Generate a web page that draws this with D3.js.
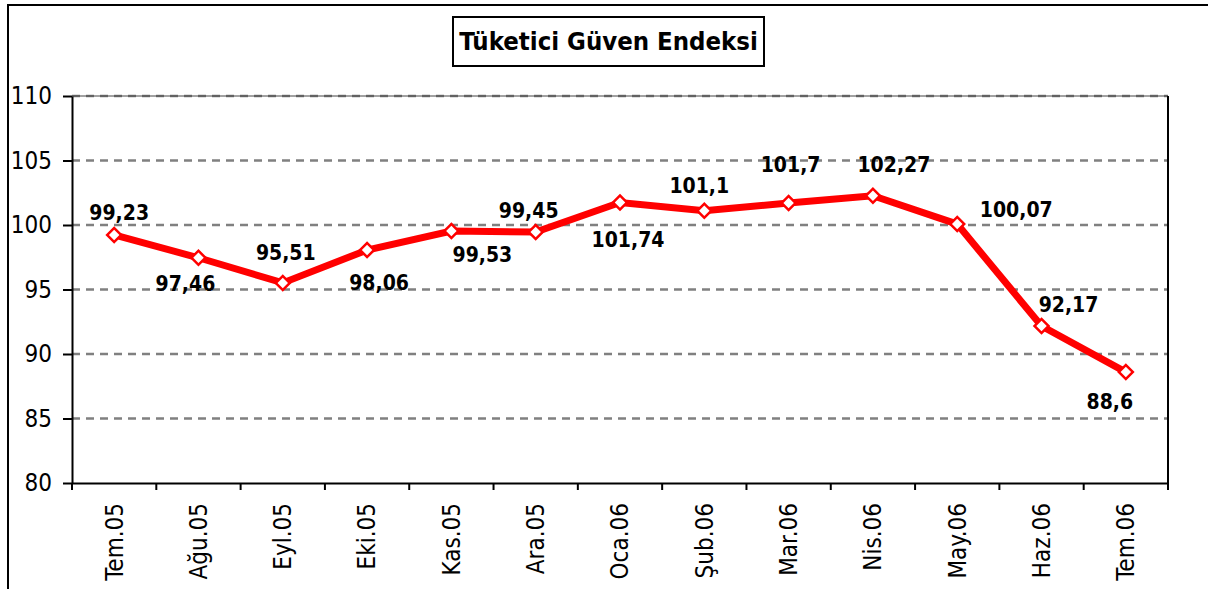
<!DOCTYPE html>
<html>
<head>
<meta charset="utf-8">
<script src="https://cdn.jsdelivr.net/npm/d3@7"></script>
<style>
  body { margin: 0; background: #fff; }
  text { font-family: "DejaVu Sans Condensed", "DejaVu Sans", Verdana, sans-serif; font-stretch: condensed; }
</style>
</head>
<body>
<div id="chart"></div>
<script>
// data
const months = ["Tem.05", "Ağu.05", "Eyl.05", "Eki.05", "Kas.05", "Ara.05", "Oca.06",
                "Şub.06", "Mar.06", "Nis.06", "May.06", "Haz.06", "Tem.06"];
const values = [99.23, 97.46, 95.51, 98.06, 99.53, 99.45, 101.74, 101.1, 101.7, 102.27, 100.07, 92.17, 88.6];
const valueLabels = ["99,23", "97,46", "95,51", "98,06", "99,53", "99,45", "101,74",
                     "101,1", "101,7", "102,27", "100,07", "92,17", "88,6"];
const yTicks = [80, 85, 90, 95, 100, 105, 110];
const title = "Tüketici Güven Endeksi";

// label placement relative to each point (dx, baseline dy)
const labelOffsets = [[5, -15], [-13, 33], [3, -23], [12, 40], [31, 31], [-7, -14], [8, 44],
                      [-5, -18], [2, -31], [21, -24], [59, -7], [27, -14], [-16, 37]];

const W = 1208, H = 589;
const margin = {top: 96, right: 40, bottom: 106, left: 72};

let svg = d3.select("#chart").append("svg")
    .attr("width", W)
    .attr("height", H);

// outer frame
svg.append("rect")
    .attr("x", 8).attr("y", 5)
    .attr("width", W + 10).attr("height", H + 10)
    .attr("fill", "none")
    .attr("stroke", "#000")
    .attr("stroke-width", 2);

let xScale = d3.scaleBand()
    .domain(months)
    .range([margin.left, W - margin.right])
    .padding(0);

let yScale = d3.scaleLinear()
    .domain([80, 110])
    .range([H - margin.bottom, margin.top]);

// gridlines
svg.append("g")
    .selectAll("line")
    .data(yTicks.filter(d => d > 80))
    .enter()
    .append("line")
    .attr("x1", margin.left)
    .attr("x2", W - margin.right)
    .attr("y1", d => yScale(d))
    .attr("y2", d => yScale(d))
    .attr("stroke", "#808080")
    .attr("stroke-width", 2.5)
    .attr("stroke-dasharray", "8,6");

// top border of plot (under the 110 grid line)
svg.append("line")
    .attr("x1", margin.left).attr("x2", W - margin.right)
    .attr("y1", yScale(110)).attr("y2", yScale(110))
    .attr("stroke", "#444")
    .attr("stroke-width", 1);

// right border
svg.append("line")
    .attr("x1", W - margin.right).attr("x2", W - margin.right)
    .attr("y1", yScale(110)).attr("y2", yScale(80))
    .attr("stroke", "#000")
    .attr("stroke-width", 2);

// y axis
let yAxis = svg.append("g")
    .attr("transform", `translate(${margin.left},0)`)
    .call(d3.axisLeft(yScale).tickValues(yTicks).tickSize(9).tickSizeOuter(0).tickPadding(11));
yAxis.select(".domain").attr("stroke", "#000").attr("stroke-width", 2);
yAxis.selectAll(".tick line").attr("stroke", "#000").attr("stroke-width", 2);
yAxis.selectAll(".tick text")
    .attr("font-size", "24px")
    .attr("fill", "#000");

// x axis (labels only, ticks drawn at category boundaries)
let xAxis = svg.append("g")
    .attr("transform", `translate(0,${H - margin.bottom})`)
    .call(d3.axisBottom(xScale).tickSize(0).tickSizeOuter(0));
xAxis.select(".domain").attr("stroke", "#000").attr("stroke-width", 2);
xAxis.selectAll(".tick text")
    .attr("font-size", "24px")
    .attr("fill", "#000")
    .attr("text-anchor", "end")
    .attr("transform", "rotate(-90)")
    .attr("x", -20)
    .attr("y", 0)
    .attr("dy", "0.35em");

let boundaries = months.map(d => xScale(d)).concat([xScale(months[months.length - 1]) + xScale.bandwidth()]);
xAxis.selectAll(".boundary")
    .data(boundaries)
    .enter()
    .append("line")
    .attr("class", "boundary")
    .attr("x1", d => d).attr("x2", d => d)
    .attr("y1", 0).attr("y2", 7)
    .attr("stroke", "#000")
    .attr("stroke-width", 2);

let points = months.map((m, i) => ({month: m, value: values[i], label: valueLabels[i], off: labelOffsets[i]}));
let cx = d => xScale(d.month) + xScale.bandwidth() / 2;

// line
svg.append("path")
    .datum(points)
    .attr("fill", "none")
    .attr("stroke", "#ff0000")
    .attr("stroke-width", 7)
    .attr("stroke-linejoin", "miter")
    .attr("d", d3.line().x(cx).y(d => yScale(d.value)));

// diamond markers
svg.append("g")
    .selectAll("path")
    .data(points)
    .enter()
    .append("path")
    .attr("transform", d => `translate(${cx(d)},${yScale(d.value)}) rotate(45)`)
    .attr("d", d3.symbol().type(d3.symbolSquare).size(98))
    .attr("fill", "#fff")
    .attr("stroke", "#ff0000")
    .attr("stroke-width", 2.5);

// value labels
svg.append("g")
    .selectAll("text")
    .data(points)
    .enter()
    .append("text")
    .attr("x", d => cx(d) + d.off[0])
    .attr("y", d => yScale(d.value) + d.off[1])
    .attr("text-anchor", "middle")
    .attr("font-size", "21px")
    .attr("font-weight", "bold")
    .attr("fill", "#000")
    .text(d => d.label);

// title box
svg.append("rect")
    .attr("x", 453).attr("y", 17)
    .attr("width", 311).attr("height", 49)
    .attr("fill", "#fff")
    .attr("stroke", "#000")
    .attr("stroke-width", 2);

svg.append("text")
    .attr("x", 608.5)
    .attr("y", 50)
    .attr("text-anchor", "middle")
    .attr("font-size", "25.5px")
    .attr("font-weight", "bold")
    .attr("fill", "#000")
    .text(title);
</script>
</body>
</html>
